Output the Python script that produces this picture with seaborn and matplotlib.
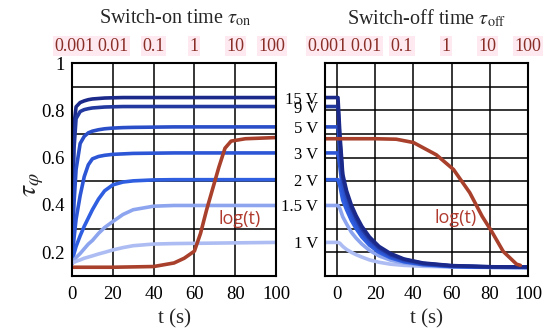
import numpy as np
import pandas as pd
import seaborn as sns
import matplotlib.pyplot as plt

# voltages and colours (darkest = highest voltage)
volts = ['15 V', '9 V', '5 V', '3 V', '2 V', '1.5 V', '1 V']
colors = ['#1b2a8a', '#22399f', '#2a4ec8', '#2c56d6', '#2f5fe0', '#8da5ef', '#adbdf3']
plateau = [0.854, 0.816, 0.73, 0.62, 0.507, 0.398, 0.242]

# switch-on curves (left panel)
t_on = [0, 0.5, 1, 2, 4, 6, 8, 10, 13, 16, 20, 25, 30, 40, 50, 70, 100]
on_15 = [0.154, 0.55, 0.74, 0.815, 0.833, 0.840, 0.845, 0.848, 0.850, 0.852, 0.853, 0.854, 0.854, 0.854, 0.854, 0.854, 0.854]
on_9 = [0.154, 0.45, 0.64, 0.765, 0.795, 0.803, 0.807, 0.810, 0.812, 0.814, 0.815, 0.816, 0.816, 0.816, 0.816, 0.816, 0.816]
on_5 = [0.154, 0.30, 0.41, 0.55, 0.66, 0.69, 0.705, 0.712, 0.718, 0.722, 0.725, 0.727, 0.728, 0.729, 0.73, 0.73, 0.73]
on_3 = [0.154, 0.21, 0.26, 0.34, 0.44, 0.52, 0.57, 0.595, 0.605, 0.61, 0.614, 0.616, 0.618, 0.619, 0.62, 0.62, 0.62]
on_2 = [0.154, 0.175, 0.195, 0.225, 0.27, 0.31, 0.345, 0.38, 0.425, 0.46, 0.485, 0.497, 0.502, 0.506, 0.507, 0.507, 0.507]
on_15v = [0.154, 0.16, 0.167, 0.178, 0.195, 0.215, 0.235, 0.25, 0.28, 0.305, 0.33, 0.36, 0.38, 0.395, 0.398, 0.398, 0.398]
on_1 = [0.154, 0.156, 0.158, 0.162, 0.168, 0.175, 0.18, 0.185, 0.193, 0.2, 0.21, 0.22, 0.228, 0.235, 0.237, 0.239, 0.242]
on_curves = [on_15, on_9, on_5, on_3, on_2, on_15v, on_1]

# log(t) curve, switch-on
t_log_on = [0, 20, 40, 50, 55, 60, 63, 66, 69, 72, 75, 78, 85, 100]
log_on = [0.137, 0.137, 0.14, 0.155, 0.175, 0.205, 0.28, 0.38, 0.47, 0.56, 0.64, 0.67, 0.68, 0.685]

# switch-off curves (right panel)
t_off = [-6.3, 0.5, 1.5, 3, 5, 7.5, 10, 13, 17, 22, 28, 35, 45, 60, 80, 100]
off_15 = [0.854, 0.854, 0.70, 0.53, 0.46, 0.40, 0.355, 0.31, 0.265, 0.225, 0.195, 0.172, 0.155, 0.144, 0.139, 0.138]
off_9 = [0.816, 0.816, 0.67, 0.515, 0.45, 0.39, 0.345, 0.30, 0.258, 0.22, 0.19, 0.17, 0.153, 0.143, 0.139, 0.138]
off_5 = [0.73, 0.73, 0.62, 0.49, 0.43, 0.375, 0.335, 0.29, 0.25, 0.214, 0.186, 0.167, 0.152, 0.142, 0.138, 0.137]
off_3 = [0.62, 0.62, 0.56, 0.46, 0.41, 0.36, 0.32, 0.28, 0.242, 0.208, 0.182, 0.164, 0.15, 0.141, 0.138, 0.137]
off_2 = [0.507, 0.507, 0.48, 0.42, 0.38, 0.335, 0.30, 0.265, 0.23, 0.20, 0.177, 0.16, 0.148, 0.14, 0.137, 0.136]
off_15v = [0.398, 0.398, 0.385, 0.35, 0.32, 0.285, 0.26, 0.235, 0.208, 0.185, 0.167, 0.155, 0.146, 0.139, 0.137, 0.136]
off_1 = [0.242, 0.242, 0.238, 0.225, 0.212, 0.20, 0.19, 0.18, 0.168, 0.158, 0.15, 0.145, 0.141, 0.138, 0.136, 0.135]
off_curves = [off_15, off_9, off_5, off_3, off_2, off_15v, off_1]

# log(t) curve, switch-off
t_log_off = [-6.3, 20, 31, 40, 52, 61, 69.5, 76, 81, 87, 94, 96]
log_off = [0.68, 0.68, 0.678, 0.664, 0.612, 0.55, 0.452, 0.352, 0.288, 0.204, 0.15, 0.145]

# axis labels
grid_t = [0, 20, 40, 60, 80, 100]
top_labels = ['0.001', '0.01', '0.1', '1', '10', '100']
top_pos_on = [1, 20, 40, 60, 80, 98]
top_pos_off = [-5, 15, 34, 57, 79, 100]
y_major = [0.2, 0.4, 0.6, 0.8, 1.0]
y_major_labels = ['0.2', '0.4', '0.6', '0.8', '1']
y_grid = [0.2, 0.3, 0.4, 0.5, 0.6, 0.7, 0.8, 0.9]

sns.set_theme(style='white')
plt.rcParams['font.family'] = ['Liberation Serif', 'DejaVu Serif']
plt.rcParams['mathtext.fontset'] = 'stix'

red = '#a8402c'
toplab = '#8a2e28'
W, H = 550, 333
fig = plt.figure(figsize=(5.5, 3.33), dpi=100)
ax1 = fig.add_axes([72 / W, 1 - 276 / H, 204 / W, 213 / H])
ax2 = fig.add_axes([325 / W, 1 - 276 / H, 203 / W, 213 / H])


def style_axes(ax, xlim, top_pos):
    ax.set_xlim(*xlim)
    ax.set_ylim(0.1, 1.0)
    ax.set_xticks(grid_t)
    ax.set_yticks(y_grid, minor=True)
    ax.grid(True, axis='x', which='major', color='black', lw=1.1)
    ax.grid(True, axis='y', which='minor', color='black', lw=1.1)
    ax.tick_params(axis='both', which='both', length=0, labelsize=13.5, colors='black')
    ax.tick_params(axis='x', pad=7)
    ax.tick_params(axis='y', pad=5)
    for s in ax.spines.values():
        s.set_color('black')
        s.set_linewidth(1.5)
    ax.set_xlabel('t (s)', fontsize=15, labelpad=5)
    ax.set_ylabel('')
    sec = ax.secondary_xaxis('top')
    sec.set_xticks(top_pos, top_labels)
    sec.tick_params(length=0, labelsize=13, pad=6, colors=toplab)
    for lab in sec.get_xticklabels():
        lab.set_bbox(dict(facecolor='#fde9ef', edgecolor='none', pad=1))
    sec.spines['top'].set_visible(False)


for vals, c in zip(on_curves, colors):
    sns.lineplot(x=t_on, y=vals, ax=ax1, color=c, lw=2.6, sort=False)
sns.lineplot(x=t_log_on, y=log_on, ax=ax1, color=red, lw=2.6, sort=False)

for vals, c in zip(off_curves[::-1], colors[::-1]):
    sns.lineplot(x=t_off, y=vals, ax=ax2, color=c, lw=2.6, sort=False)
sns.lineplot(x=t_log_off, y=log_off, ax=ax2, color=red, lw=2.6, sort=False)

style_axes(ax1, (0, 100), top_pos_on)
ax1.set_yticks(y_major, y_major_labels)
ax1.grid(False, axis='y', which='major')

style_axes(ax2, (-6.3, 100), top_pos_off)
ax2.set_yticks(plateau, volts)
ax2.grid(False, axis='y', which='major')
ax2.tick_params(axis='y', labelsize=12)

ax1.text(82, 0.34, 'log(t)', color='#b03a2e', fontsize=13, family='Open Sans',
         ha='center', va='center')
ax2.text(62, 0.345, 'log(t)', color='#b03a2e', fontsize=13, family='Open Sans',
         ha='center', va='center')

fig.text(175 / W, 1 - 18 / H, r'Switch-on time $\tau_{\rm on}$', fontsize=14.5,
         ha='center', va='center')
fig.text(427 / W, 1 - 18 / H, r'Switch-off time $\tau_{\rm off}$', fontsize=14.5,
         ha='center', va='center')
fig.text(34 / W, 1 - 185 / H, r'$\tau_\varphi$', fontsize=20, rotation=90,
         ha='center', va='center')

fig.savefig('out.png', dpi=100)
